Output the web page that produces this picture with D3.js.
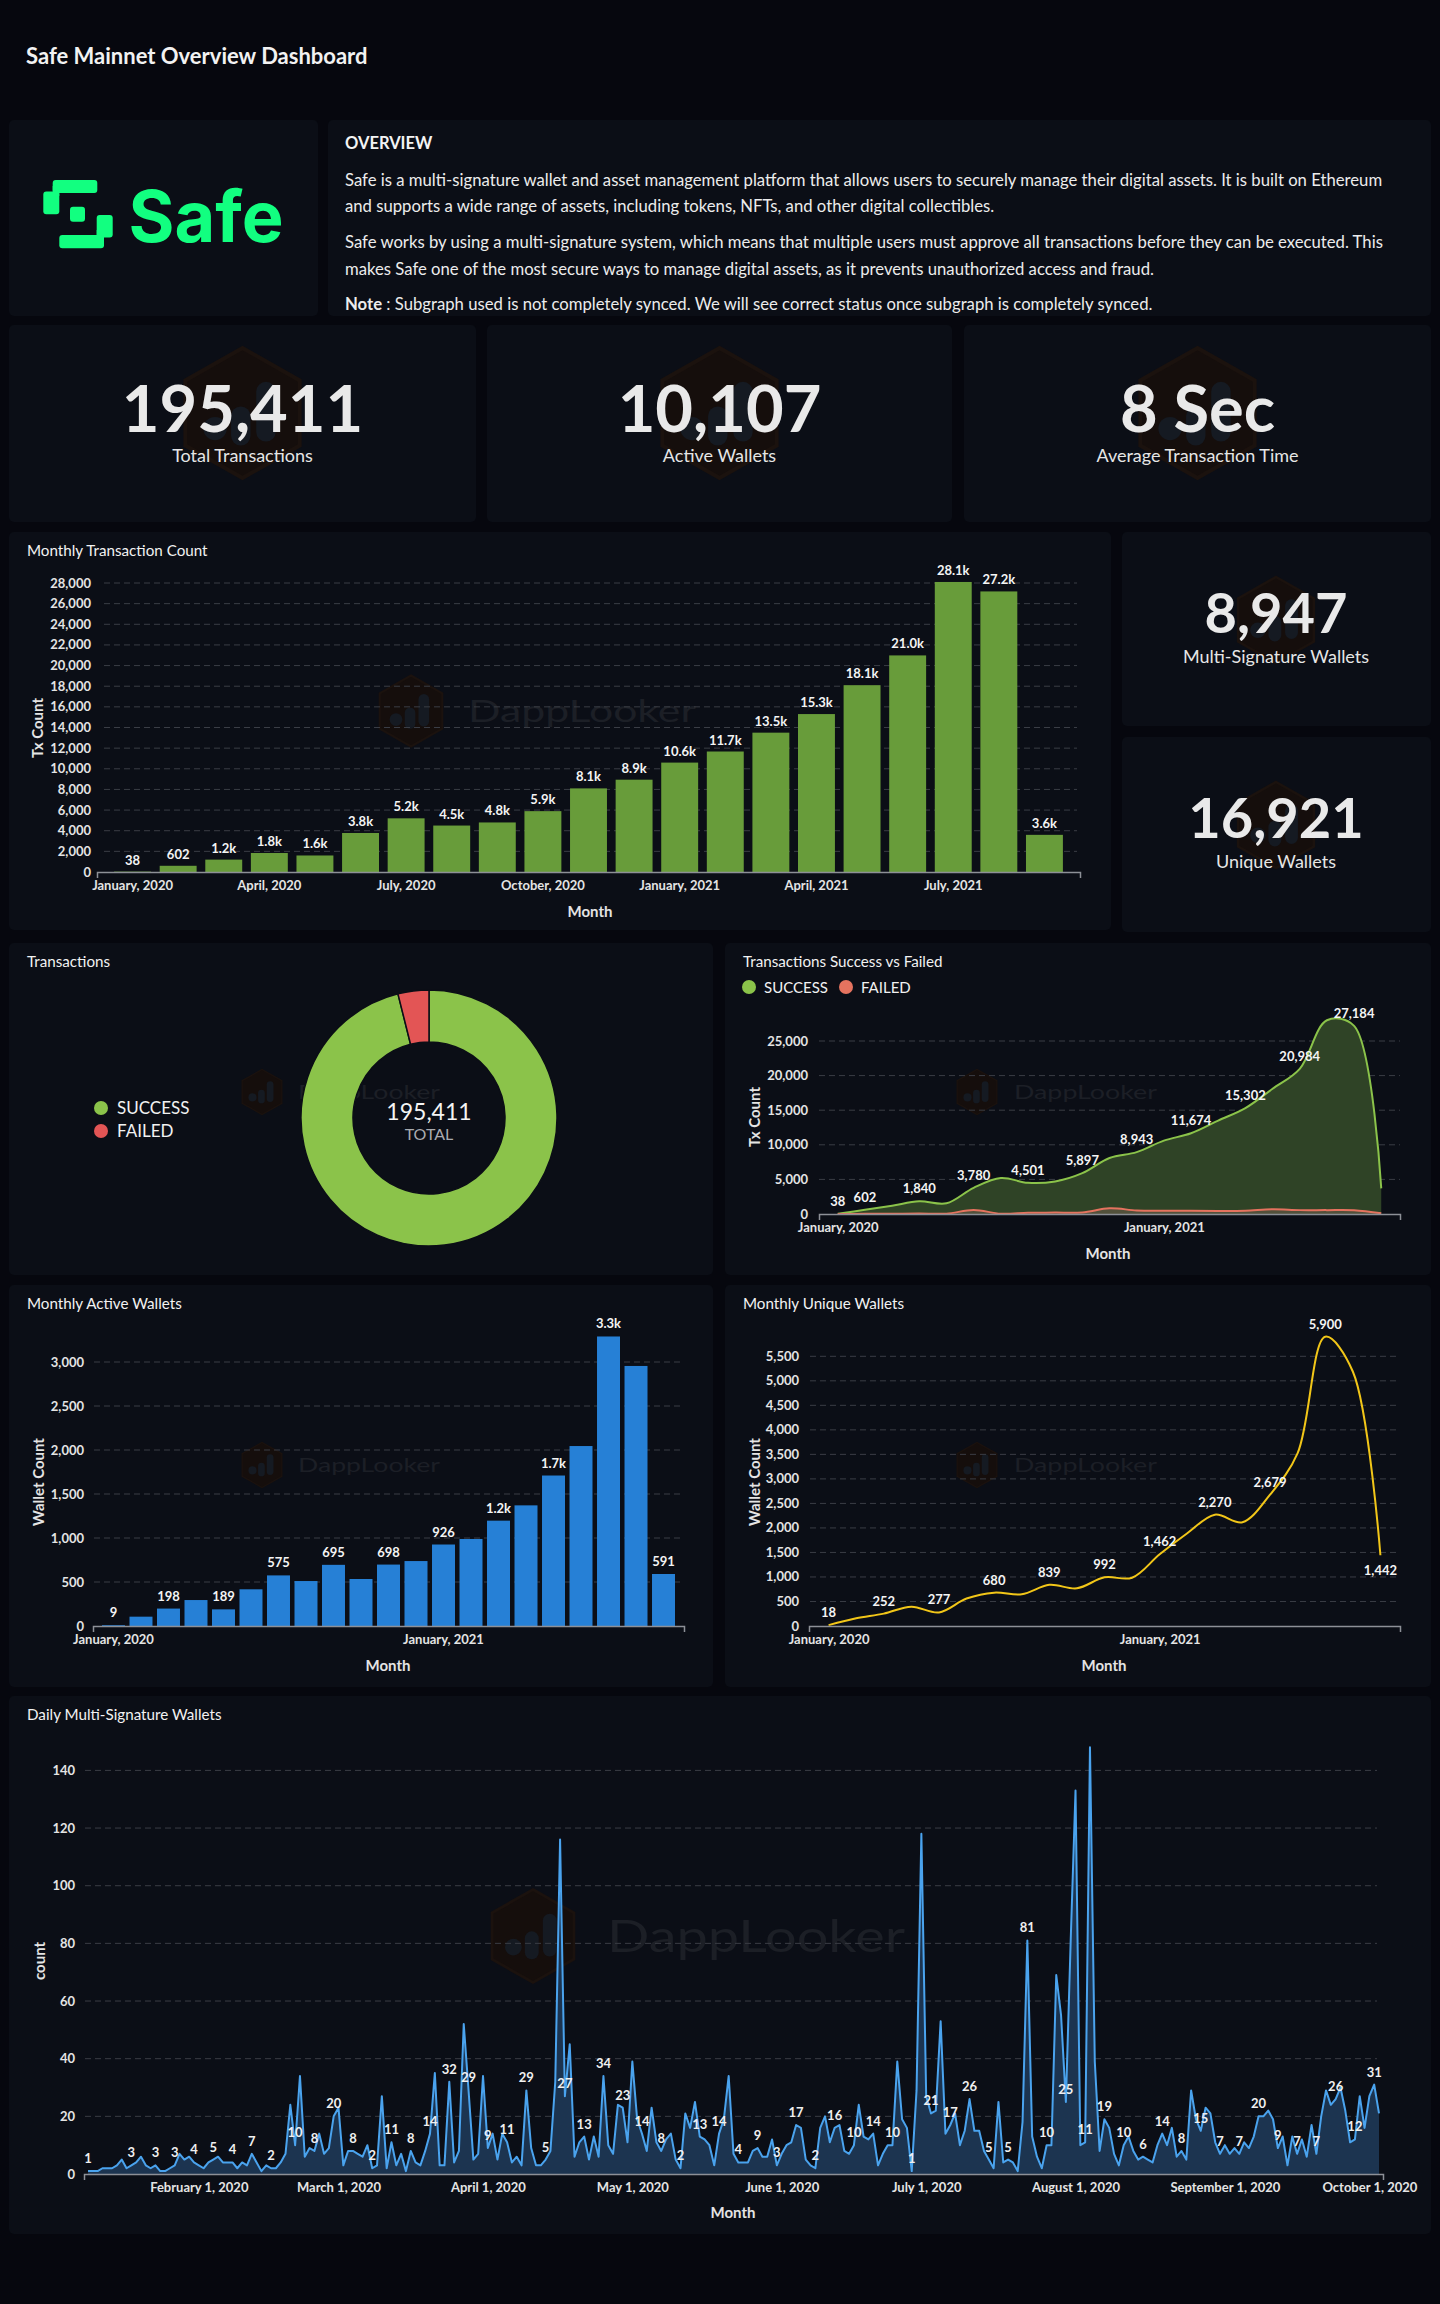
<!DOCTYPE html>
<html><head><meta charset="utf-8">
<script src="https://cdn.jsdelivr.net/npm/d3@7"></script>
<style>
html,body{margin:0;padding:0;background:#06070e;}
svg{display:block;}
</style></head><body>
<svg id="c" width="1440" height="2304"></svg>
<script>
// ---------------- DATA ----------------
const months = ["2020-01","2020-02","2020-03","2020-04","2020-05","2020-06","2020-07","2020-08","2020-09","2020-10","2020-11","2020-12","2021-01","2021-02","2021-03","2021-04","2021-05","2021-06","2021-07","2021-08","2021-09"];
const monthlyTx = [38, 602, 1200, 1840, 1600, 3780, 5200, 4501, 4800, 5897, 8100, 8943, 10600, 11674, 13500, 15302, 18100, 20984, 28100, 27184, 3600];
const txSuccess = [38, 602, 1200, 1840, 1550, 3780, 5200, 4501, 4700, 5897, 8100, 8943, 10600, 11674, 13500, 15302, 18100, 20984, 28000, 27184, 3700];
const txFailed = [5, 20, 40, 60, 50, 580, 40, 180, 200, 230, 820, 520, 480, 460, 450, 480, 680, 560, 560, 540, 100];
const donutLabels = ["SUCCESS", "FAILED"];
const donutValues = [187791, 7620];
const activeWallets = [9, 106, 198, 295, 189, 417, 575, 511, 695, 534, 698, 738, 926, 989, 1197, 1371, 1710, 2045, 3290, 2955, 591];
const uniqueWallets = [18, 156, 252, 394, 277, 560, 680, 646, 839, 769, 992, 985, 1462, 1891, 2270, 2116, 2679, 3524, 5900, 5190, 1442];
const dailyStart = "2020-01-09";
const dailyMultisig = [
1,1,1,2,2,2,3,5,2,3,
4,6,3,2,3,1,1,2,3,7,
5,6,4,3,2,4,5,6,4,4,
4,2,4,3,7,4,1,3,2,2,
4,7,24,10,34,6,9,8,14,7,
9,20,23,3,8,8,7,6,10,2,
3,27,2,11,3,7,1,8,4,3,
8,14,35,3,3,32,4,8,52,29,
5,7,34,9,14,5,14,11,4,6,
3,29,9,3,3,5,8,32,116,27,
45,6,11,13,5,13,6,34,10,7,
24,23,11,39,19,14,8,23,11,8,
12,14,5,2,21,16,25,13,12,10,
3,14,19,34,7,4,4,4,8,9,
6,6,12,3,7,10,11,17,16,5,
3,2,16,20,11,16,17,8,7,10,
24,13,12,14,3,7,10,10,39,19,
16,1,29,118,27,21,22,53,14,17,
21,10,15,26,15,15,8,5,2,25,
4,5,4,1,18,81,13,6,2,10,
10,69,55,25,81,133,10,11,148,39,
8,19,16,7,3,10,13,8,5,6,
5,4,10,14,10,16,6,8,5,29,
19,15,23,21,11,7,10,7,9,7,
11,9,13,20,20,22,19,9,13,3,
13,7,12,6,17,7,20,29,24,26,
30,22,11,12,27,16,27,31,21];
const dailyLabelIdxEarly = [0, 9, 14, 18, 22, 26, 30, 34, 38];

const kpiTopValues = ["195,411", "10,107", "8 Sec"];
const kpiTopLabels = ["Total Transactions", "Active Wallets", "Average Transaction Time"];
const kpiSideValues = ["8,947", "16,921"];
const kpiSideLabels = ["Multi-Signature Wallets", "Unique Wallets"];

const txYTicks = [0, 2000, 4000, 6000, 8000, 10000, 12000, 14000, 16000, 18000, 20000, 22000, 24000, 26000, 28000];
const txXTicks = ["2020-01", "2020-04", "2020-07", "2020-10", "2021-01", "2021-04", "2021-07"];
const successYTicks = [0, 5000, 10000, 15000, 20000, 25000];
const yearXTicks = ["2020-01", "2021-01"];
const activeYTicks = [0, 500, 1000, 1500, 2000, 2500, 3000];
const uniqueYTicks = [0, 500, 1000, 1500, 2000, 2500, 3000, 3500, 4000, 4500, 5000, 5500];
const dailyYTicks = [0, 20, 40, 60, 80, 100, 120, 140];
const dailyXTicks = ["2020-02-01", "2020-03-01", "2020-04-01", "2020-05-01", "2020-06-01", "2020-07-01", "2020-08-01", "2020-09-01", "2020-10-01"];

const overviewLines = [
  "Safe is a multi-signature wallet and asset management platform that allows users to securely manage their digital assets. It is built on Ethereum",
  "and supports a wide range of assets, including tokens, NFTs, and other digital collectibles.",
  "Safe works by using a multi-signature system, which means that multiple users must approve all transactions before they can be executed. This",
  "makes Safe one of the most secure ways to manage digital assets, as it prevents unauthorized access and fraud."
];
const noteText = " : Subgraph used is not completely synced. We will see correct status once subgraph is completely synced.";

// ---------------- STYLE ----------------
const BG = "#06070e", CARD = "#0b0e16", FONT = "Lato, 'Open Sans', sans-serif";
const GRID = "#3a3d45", TICK = "#e4e4e4";
const svg = d3.select("#c").attr("font-family", FONT);
svg.append("rect").attr("width", 1440).attr("height", 2304).attr("fill", BG);

const parseM = d3.timeParse("%Y-%m");
const parseD = d3.timeParse("%Y-%m-%d");
const fmtMonth = d3.timeFormat("%B, %Y");
const fmtDay = d3.timeFormat("%B %-d, %Y");
const kfmt = v => v >= 1000 ? d3.format(".1f")(v / 1000) + "k" : String(v);
const cfmt = d3.format(",");

function card(x0, y0, x1, y1) {
  svg.append("rect").attr("x", x0).attr("y", y0).attr("width", x1 - x0).attr("height", y1 - y0)
    .attr("rx", 5).attr("fill", CARD);
}
function text(x, y, s, size, o = {}) {
  return svg.append("text").attr("x", x).attr("y", y).text(s)
    .attr("font-size", size).attr("fill", o.fill || "#ffffff")
    .attr("font-weight", o.weight || 400)
    .attr("text-anchor", o.anchor || "start");
}
function watermark(cx, cy, h, tx, tw, ts) {
  const g = svg.append("g").attr("transform", `translate(${cx},${cy})`);
  const w = h * 0.88;
  const pts = [[0, -h / 2], [w / 2, -h / 4], [w / 2, h / 4], [0, h / 2], [-w / 2, h / 4], [-w / 2, -h / 4]];
  g.append("path").attr("d", "M" + pts.join("L") + "Z").attr("fill", "#150e0c").attr("stroke", "#1b120e").attr("stroke-width", h * 0.03);
  const bw = w * 0.17;
  g.append("circle").attr("cx", -w * 0.24).attr("cy", h * 0.12).attr("r", bw * 0.6).attr("fill", "#151a22");
  g.append("rect").attr("x", -w * 0.1).attr("y", -h * 0.05).attr("width", bw).attr("height", h * 0.3).attr("rx", bw / 2).attr("fill", "#151a22");
  g.append("rect").attr("x", w * 0.12).attr("y", -h * 0.24).attr("width", bw).attr("height", h * 0.46).attr("rx", bw / 2).attr("fill", "#151a22");
  if (tx != null) {
    svg.append("text").attr("x", tx).attr("y", cy + ts * 0.36).text("DappLooker")
      .attr("font-size", ts).attr("fill", "#1c1f26").attr("textLength", tw).attr("lengthAdjust", "spacingAndGlyphs");
  }
}
function yGrid(scale, ticks, x0, x1, labelX, fmt) {
  ticks.forEach(t => {
    if (t !== 0) svg.append("line").attr("x1", x0).attr("x2", x1).attr("y1", scale(t)).attr("y2", scale(t))
      .attr("stroke", GRID).attr("stroke-width", 1).attr("stroke-dasharray", "6,4");
    text(labelX, scale(t) + 4.5, fmt(t), 13, { fill: TICK, weight: 700, anchor: "end" });
  });
}
function xAxis(scale, y, ticks, fmt) {
  const ax = d3.axisBottom(scale).tickValues(ticks).tickFormat(fmt).tickSizeInner(0).tickSizeOuter(6).tickPadding(9);
  const g = svg.append("g").attr("transform", `translate(0,${y})`).call(ax);
  g.attr("font-family", FONT).attr("font-size", 13).attr("font-weight", 700);
  g.select(".domain").attr("stroke", "#8d9097").attr("stroke-width", 1.5);
  g.selectAll(".tick text").attr("fill", TICK);
  g.selectAll(".tick line").remove();
}
function yTitle(x, y, s) {
  svg.append("text").attr("transform", `translate(${x},${y}) rotate(-90)`).attr("text-anchor", "middle")
    .attr("dominant-baseline", "central").attr("font-size", 15).attr("font-weight", 700).attr("fill", TICK).text(s);
}

// ---------------- HEADER ----------------
text(26, 64, "Safe Mainnet Overview Dashboard", 22, { weight: 700, fill: "#f2f2f2" });

// logo card
card(9, 120, 318, 316);
const GREEN = "#12ff80";
const logo = svg.append("g").attr("fill", GREEN);
logo.append("rect").attr("x", 52.7).attr("y", 180).attr("width", 44.6).attr("height", 13).attr("rx", 3);
logo.append("rect").attr("x", 43.3).attr("y", 191.5).attr("width", 16).attr("height", 22.8).attr("rx", 3);
logo.append("rect").attr("x", 52.7).attr("y", 186).attr("width", 6.6).attr("height", 10);
logo.append("rect").attr("x", 70).attr("y", 206.7).attr("width", 15).attr("height", 15).attr("rx", 3);
logo.append("rect").attr("x", 96.7).attr("y", 215).attr("width", 16).attr("height", 22.5).attr("rx", 3);
logo.append("rect").attr("x", 59.3).attr("y", 235).attr("width", 44.7).attr("height", 13.3).attr("rx", 3);
logo.append("rect").attr("x", 96.7).attr("y", 230).attr("width", 7.3).attr("height", 10);
svg.append("text").attr("x", 128.5).attr("y", 241.5).text("Safe").attr("fill", GREEN)
  .attr("font-family", "Inter, 'Open Sans', sans-serif").attr("font-weight", 700).attr("font-size", 71)
  .attr("textLength", 155).attr("lengthAdjust", "spacingAndGlyphs");

// overview card
card(328, 120, 1431, 316);
text(345, 149, "OVERVIEW", 16.5, { weight: 700, fill: "#f4f4f4" });
const lineY = [186, 212, 248, 275];
overviewLines.forEach((l, i) => text(345, lineY[i], l, 16.7, { fill: "#ececec" }));
const note = text(345, 310, "", 16.7, { fill: "#ececec" });
note.append("tspan").attr("font-weight", 700).text("Note");
note.append("tspan").text(noteText);

// ---------------- KPI ROW ----------------
const kpiCards = [[9, 476], [487, 952], [964, 1431]];
kpiCards.forEach(([x0, x1], i) => {
  card(x0, 325, x1, 522);
  const cx = (x0 + x1) / 2;
  watermark(cx, 413, 130);
  text(cx, 432, kpiTopValues[i], 65, { weight: 700, fill: "#e9e9e9", anchor: "middle" });
  text(cx, 462, kpiTopLabels[i], 18, { fill: "#e6e6e6", anchor: "middle" });
});

// side KPI cards
[[532, 726, 620, 633, 663], [737, 932, 825, 838, 868]].forEach(([y0, y1, wy, ny, ly], i) => {
  card(1122, y0, 1431, y1);
  watermark(1276, wy, 86);
  text(1276, ny, kpiSideValues[i], 56, { weight: 700, fill: "#e9e9e9", anchor: "middle" });
  text(1276, ly, kpiSideLabels[i], 18, { fill: "#e6e6e6", anchor: "middle" });
});

// ---------------- MONTHLY TX COUNT ----------------
card(9, 532, 1111, 930);
text(27, 556, "Monthly Transaction Count", 15.2, { fill: "#f2f2f2" });
watermark(411, 711, 71, 468, 228, 31);
{
  const x = d3.scaleBand().domain(months).range([97, 1080]).paddingInner(0.19).paddingOuter(0.375);
  const y = d3.scaleLinear().domain([0, 28000]).range([872, 583]);
  yGrid(y, txYTicks, 104, 1077, 91, d3.format(","));
  svg.append("g").selectAll("rect").data(monthlyTx).join("rect")
    .attr("x", (d, i) => x(months[i])).attr("width", x.bandwidth())
    .attr("y", d => y(d)).attr("height", d => y(0) - y(d)).attr("fill", "#689c3a");
  svg.append("g").selectAll("text").data(monthlyTx).join("text")
    .attr("x", (d, i) => x(months[i]) + x.bandwidth() / 2).attr("y", d => y(d) - 7)
    .attr("text-anchor", "middle").attr("font-size", 13).attr("font-weight", 700).attr("fill", "#f4f4f4")
    .text(kfmt);
  xAxis(x, 872, txXTicks, d => fmtMonth(parseM(d)));
  text(590, 917, "Month", 15, { weight: 700, fill: TICK, anchor: "middle" });
  yTitle(37, 728, "Tx Count");
}

// ---------------- DONUT ----------------
card(9, 943, 713, 1275);
text(27, 967, "Transactions", 15.2, { fill: "#f2f2f2" });
watermark(262, 1092, 45, 298, 142, 20);
{
  const colors = ["#8bc34a", "#e35555"];
  const pie = d3.pie().sort(null).value(d => d)(donutValues);
  const arc = d3.arc().innerRadius(76).outerRadius(128);
  svg.append("g").attr("transform", "translate(429,1118)").selectAll("path").data(pie).join("path")
    .attr("d", arc).attr("fill", (d, i) => colors[i]).attr("stroke", CARD).attr("stroke-width", 1.5);
  text(429, 1120, cfmt(d3.sum(donutValues)), 23, { fill: "#f4f4f4", anchor: "middle" });
  text(429, 1140, "TOTAL", 16, { fill: "#a9abb0", anchor: "middle" });
  donutLabels.forEach((l, i) => {
    svg.append("circle").attr("cx", 101).attr("cy", 1108 + i * 23).attr("r", 7).attr("fill", colors[i]);
    text(117, 1114 + i * 23, l, 17, { fill: "#f2f2f2" });
  });
}

// ---------------- SUCCESS VS FAILED ----------------
card(725, 943, 1431, 1275);
text(743, 967, "Transactions Success vs Failed", 15.2, { fill: "#f2f2f2" });
watermark(977, 1092, 45, 1014, 143, 20);
{
  svg.append("circle").attr("cx", 749).attr("cy", 987).attr("r", 7).attr("fill", "#8bc34a");
  text(764, 992.5, "SUCCESS", 15, { fill: "#f2f2f2" });
  svg.append("circle").attr("cx", 846).attr("cy", 987).attr("r", 7).attr("fill", "#e5735f");
  text(861, 992.5, "FAILED", 15, { fill: "#f2f2f2" });
  const x = d3.scalePoint().domain(months).range([819, 1400]).padding(0.69);
  const y = d3.scaleLinear().domain([0, 25000]).range([1214, 1041]);
  yGrid(y, successYTicks, 819, 1400, 808, d3.format(","));
  const curve = d3.curveCatmullRom.alpha(0.5);
  const area = d3.area().x((d, i) => x(months[i])).y0(y(0)).y1(d => y(d)).curve(curve);
  const line = d3.line().x((d, i) => x(months[i])).y(d => y(d)).curve(curve);
  svg.append("path").attr("d", area(txSuccess)).attr("fill", "#2f4326");
  svg.append("path").attr("d", line(txSuccess)).attr("fill", "none").attr("stroke", "#8bc34a").attr("stroke-width", 2);
  svg.append("path").attr("d", area(txFailed)).attr("fill", "rgba(150,110,100,0.35)");
  svg.append("path").attr("d", line(txFailed)).attr("fill", "none").attr("stroke", "#e5735f").attr("stroke-width", 2);
  const lab = [0, 1, 3, 5, 7, 9, 11, 13, 15, 17, 19];
  svg.append("g").selectAll("text").data(lab).join("text")
    .attr("x", i => x(months[i])).attr("y", i => y(txSuccess[i]) - 8)
    .attr("text-anchor", "middle").attr("font-size", 13).attr("font-weight", 700).attr("fill", "#f4f4f4")
    .text(i => cfmt(txSuccess[i]));
  xAxis(x, 1214, yearXTicks, d => fmtMonth(parseM(d)));
  text(1108, 1259, "Month", 15, { weight: 700, fill: TICK, anchor: "middle" });
  yTitle(754, 1117, "Tx Count");
}

// ---------------- MONTHLY ACTIVE WALLETS ----------------
card(9, 1285, 713, 1687);
text(27, 1309, "Monthly Active Wallets", 15.2, { fill: "#f2f2f2" });
watermark(262, 1465, 45, 298, 142, 20);
{
  const x = d3.scaleBand().domain(months).range([93, 684]).paddingInner(0.164).paddingOuter(0.327);
  const y = d3.scaleLinear().domain([0, 3000]).range([1626, 1362]);
  yGrid(y, activeYTicks, 94, 680, 84, d3.format(","));
  svg.append("g").selectAll("rect").data(activeWallets).join("rect")
    .attr("x", (d, i) => x(months[i])).attr("width", x.bandwidth())
    .attr("y", d => y(d)).attr("height", d => y(0) - y(d)).attr("fill", "#2680d6");
  const lab = d3.range(0, 21, 2);
  svg.append("g").selectAll("text").data(lab).join("text")
    .attr("x", i => x(months[i]) + x.bandwidth() / 2).attr("y", i => y(activeWallets[i]) - 8)
    .attr("text-anchor", "middle").attr("font-size", 13).attr("font-weight", 700).attr("fill", "#f4f4f4")
    .text(i => kfmt(activeWallets[i]));
  xAxis(x, 1626, yearXTicks, d => fmtMonth(parseM(d)));
  text(388, 1671, "Month", 15, { weight: 700, fill: TICK, anchor: "middle" });
  yTitle(38, 1482, "Wallet Count");
}

// ---------------- MONTHLY UNIQUE WALLETS ----------------
card(725, 1285, 1431, 1687);
text(743, 1309, "Monthly Unique Wallets", 15.2, { fill: "#f2f2f2" });
watermark(977, 1465, 45, 1014, 143, 20);
{
  const x = d3.scalePoint().domain(months).range([809, 1400]).padding(0.71);
  const y = d3.scaleLinear().domain([0, 5500]).range([1626, 1356.3]);
  yGrid(y, uniqueYTicks, 810, 1396, 799, d3.format(","));
  const line = d3.line().x((d, i) => x(months[i])).y(d => y(d)).curve(d3.curveCatmullRom.alpha(0.5));
  svg.append("path").attr("d", line(uniqueWallets)).attr("fill", "none").attr("stroke", "#f2c618").attr("stroke-width", 2);
  const lab = d3.range(0, 21, 2);
  svg.append("g").selectAll("text").data(lab).join("text")
    .attr("x", i => x(months[i])).attr("y", i => i === 20 ? y(uniqueWallets[i]) + 20 : y(uniqueWallets[i]) - 8)
    .attr("text-anchor", "middle").attr("font-size", 13).attr("font-weight", 700).attr("fill", "#f4f4f4")
    .text(i => cfmt(uniqueWallets[i]));
  xAxis(x, 1626, yearXTicks, d => fmtMonth(parseM(d)));
  text(1104, 1671, "Month", 15, { weight: 700, fill: TICK, anchor: "middle" });
  yTitle(754, 1482, "Wallet Count");
}

// ---------------- DAILY MULTI-SIG ----------------
card(9, 1696, 1431, 2234);
text(27, 1720, "Daily Multi-Signature Wallets", 15.2, { fill: "#f2f2f2" });
watermark(533, 1936, 93, 607, 298, 45);
{
  const start = parseD(dailyStart);
  const dates = dailyMultisig.map((d, i) => d3.timeDay.offset(start, i));
  const x = d3.scaleTime().domain([dates[0], dates[dates.length - 1]]).range([88, 1379]);
  const y = d3.scaleLinear().domain([0, 140]).range([2174, 1770.4]);
  yGrid(y, dailyYTicks, 85, 1377, 75, d3.format(","));
  const area = d3.area().x((d, i) => x(dates[i])).y0(y(0)).y1(d => y(d));
  const line = d3.line().x((d, i) => x(dates[i])).y(d => y(d));
  svg.append("path").attr("d", area(dailyMultisig)).attr("fill", "#1c3450");
  svg.append("path").attr("d", line(dailyMultisig)).attr("fill", "none").attr("stroke", "#4aa3ee").attr("stroke-width", 2).attr("stroke-linejoin", "round");
  const lab = dailyLabelIdxEarly.concat(d3.range(43, dailyMultisig.length, 4));
  svg.append("g").selectAll("text").data(lab).join("text")
    .attr("x", i => x(dates[i])).attr("y", i => y(dailyMultisig[i]) - 8)
    .attr("text-anchor", "middle").attr("font-size", 13).attr("font-weight", 700).attr("fill", "#f0f0f0")
    .text(i => dailyMultisig[i]);
  const axScale = x.copy().domain([x.invert(84), x.invert(1383)]).range([84, 1383]);
  xAxis(axScale, 2174, dailyXTicks.map(parseD), fmtDay);
  text(733, 2218, "Month", 15, { weight: 700, fill: TICK, anchor: "middle" });
  yTitle(39, 1961, "count");
}
</script>
</body></html>
